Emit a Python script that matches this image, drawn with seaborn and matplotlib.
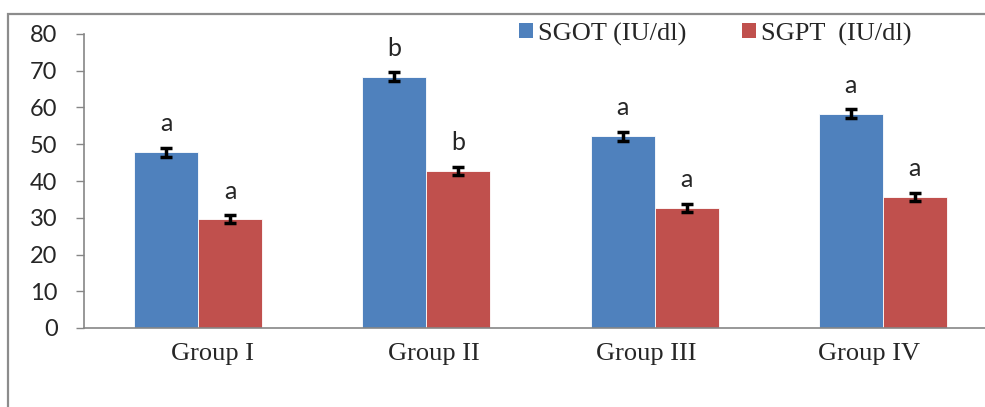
import numpy as np
import pandas as pd
import seaborn as sns
import matplotlib.pyplot as plt
import matplotlib.transforms as mtransforms
from matplotlib.patches import Patch, Rectangle

# values
groups = ["Group I", "Group II", "Group III", "Group IV"]
sgot = [47.8, 68.4, 52.2, 58.3]
sgpt = [29.6, 42.8, 32.7, 35.7]
sgot_err = [1.2, 1.2, 1.2, 1.2]
sgpt_err = [1.1, 1.1, 1.1, 1.1]
sgot_letters = ["a", "b", "a", "a"]
sgpt_letters = ["a", "b", "a", "a"]
series = ["SGOT (IU/dl)", "SGPT  (IU/dl)"]
colors = ["#4F81BD", "#C0504D"]

df = pd.DataFrame({
    "group": groups * 2,
    "param": [series[0]] * 4 + [series[1]] * 4,
    "value": sgot + sgpt,
})
errs = [sgot_err, sgpt_err]
letters = [sgot_letters, sgpt_letters]

sns.set_style("white")
serif = "Liberation Serif"
sans = "Lato"

W, H = 985, 407
fig = plt.figure(figsize=(W / 100, H / 100), dpi=100)
# axes run past the right edge of the picture, as in the reference
ax = fig.add_axes([84 / W, 79 / H, (997 - 84) / W, (373 - 79) / H])

sns.barplot(data=df, x="group", y="value", hue="param", order=groups,
            hue_order=series, palette=colors, width=0.56, gap=0,
            edgecolor="white", linewidth=0.6, saturation=1, ax=ax,
            legend=False, errorbar=None)

for cont, e, lab in zip(ax.containers, errs, letters):
    xs = [b.get_x() + b.get_width() / 2 for b in cont]
    hs = [b.get_height() for b in cont]
    ax.errorbar(xs, hs, yerr=e, fmt="none", ecolor="black", elinewidth=2.5,
                capsize=4.5, capthick=2.5, zorder=5)
    for x, h, err, t in zip(xs, hs, e, lab):
        ax.annotate(t, (x, h + err), xytext=(0, 9), textcoords="offset points",
                    ha="center", va="bottom", fontsize=18, family=sans)

ax.set_ylim(0, 80)
ax.set_xlim(-0.5, 3.5)
ax.set_yticks(range(0, 81, 10))
ax.set_xlabel("")
ax.set_ylabel("")
for s in ["top", "right"]:
    ax.spines[s].set_visible(False)
for s in ["left", "bottom"]:
    ax.spines[s].set_color("#868686")
    ax.spines[s].set_linewidth(1.2)
ax.tick_params(axis="y", length=6, width=1, color="#868686", pad=13,
               labelsize=17, left=True)
ax.tick_params(axis="x", length=0, pad=11, labelsize=19)
for t in ax.get_yticklabels():
    t.set_family(sans)
# group labels in the reference sit a little off the bar centres
label_shift = [14, 8, -8, -14]
for t, dx in zip(ax.get_xticklabels(), label_shift):
    t.set_family(serif)
    t.set_transform(t.get_transform() +
                    mtransforms.ScaledTranslation(dx / 100, 0, fig.dpi_scale_trans))

handles = [Patch(facecolor=c, edgecolor="none") for c in colors]
fig.legend(handles, series, loc="center left", bbox_to_anchor=(519 / W, 1 - 34 / H),
           ncol=2, frameon=False, borderpad=0, borderaxespad=0,
           handlelength=0.52, handleheight=0.52, handletextpad=0.2,
           columnspacing=2.1, prop={"family": serif, "size": 19})

# outer chart frame (only top and left edges fall inside the picture)
fig.patches.append(Rectangle((8 / W, -0.2), 1.2, 1 - 13.5 / H + 0.2,
                             transform=fig.transFigure, fill=False,
                             edgecolor="#8C8C8C", linewidth=1.6))

fig.savefig("out.png", dpi=100)
